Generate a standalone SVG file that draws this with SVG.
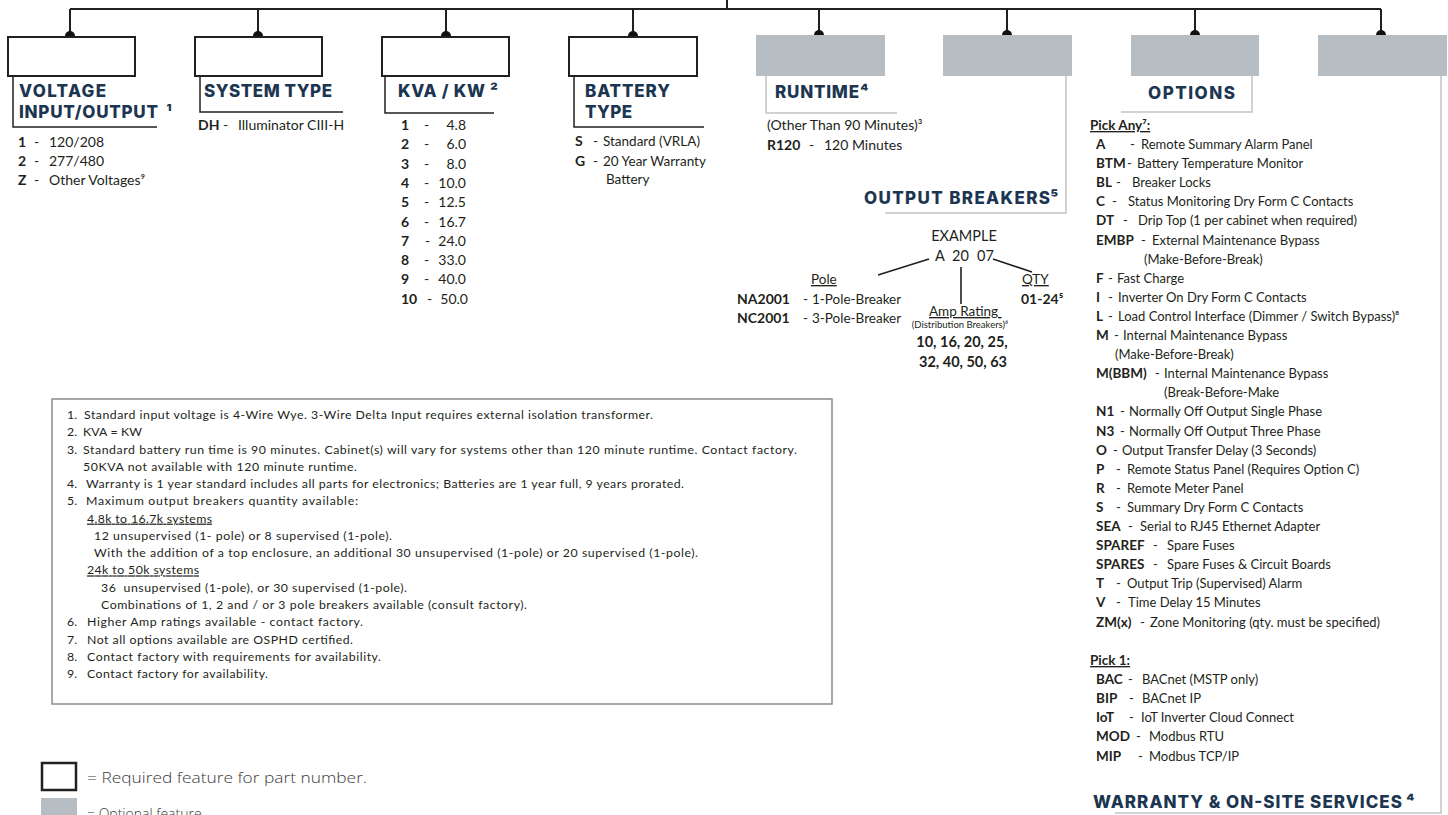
<svg xmlns="http://www.w3.org/2000/svg" width="1448" height="815" viewBox="0 0 1448 815">
<style>
.h{font-family:Inter,"Open Sans","Liberation Sans",sans-serif;font-weight:800;font-size:17px;fill:#1c3651}
.t{font-family:Lato,"Liberation Sans",sans-serif;font-size:13px;fill:#231f20}
.k{font-size:14px}
.s{font-size:13.5px}
.e{font-size:14.5px}
.sm{font-size:9.5px}
.b{font-weight:700}
.n{font-family:Lato,"Liberation Sans",sans-serif;font-size:12.3px;fill:#231f20}
.u{text-decoration:underline}
.lg{font-family:"Open Sans","Liberation Sans",sans-serif;font-weight:300;font-size:14px;fill:#3a3a3a}
.req{fill:#fff;stroke:#231f20;stroke-width:2}
.opt{fill:#b6bec4}
.br{fill:none;stroke:#231f20;stroke-width:1.5}
.bro{fill:none;stroke:#c4c4c4;stroke-width:1.5}
.ln{fill:none;stroke:#231f20;stroke-width:2}
.dot{fill:#111}
</style>

<g id="connectors">
<path class="ln" d="M70 9 H1381 M727 0 V9 M70 9 V35 M258 9 V35 M446 9 V35 M633 9 V35 M819 9 V35 M1007 9 V35 M1195 9 V35 M1381 9 V35"/>
<circle class="dot" cx="70" cy="36" r="5"/>
<circle class="dot" cx="258" cy="36" r="5"/>
<circle class="dot" cx="446" cy="36" r="5"/>
<circle class="dot" cx="633" cy="36" r="5"/>
<circle class="dot" cx="819" cy="35" r="5"/>
<circle class="dot" cx="1007" cy="35" r="5"/>
<circle class="dot" cx="1195" cy="35" r="5"/>
<circle class="dot" cx="1381" cy="35" r="5"/>
</g>

<g id="voltage">
<rect class="req" x="8" y="37" width="127" height="39"/>
<path class="br" d="M13 76 V127 H157"/>
<text class="h" x="19" y="97" textLength="87">VOLTAGE</text>
<text class="h" x="19" y="118" textLength="139">INPUT/OUTPUT</text>
<text class="h" x="166" y="118">¹</text>
<text class="t k" y="147"><tspan class="b" x="18">1</tspan><tspan x="34">-</tspan><tspan x="49">120/208</tspan></text>
<text class="t k" y="166"><tspan class="b" x="18">2</tspan><tspan x="34">-</tspan><tspan x="49">277/480</tspan></text>
<text class="t k" y="185"><tspan class="b" x="18">Z</tspan><tspan x="34">-</tspan><tspan x="49">Other Voltages⁹</tspan></text>
</g>

<g id="system-type">
<rect class="req" x="195" y="37" width="127" height="39"/>
<path class="br" d="M200 76 V112 H343"/>
<text class="h" x="204" y="97" textLength="128">SYSTEM TYPE</text>
<text class="t k" y="130"><tspan class="b" x="198">DH</tspan><tspan x="223">-</tspan><tspan x="238">Illuminator CIII-H</tspan></text>
</g>

<g id="kva">
<rect class="req" x="382" y="37" width="127" height="39"/>
<path class="br" d="M385 76 V113 H494"/>
<text class="h" x="398" y="97" textLength="87">KVA / KW</text>
<text class="h" x="490" y="97">²</text>
<g class="t k">
<text y="130"><tspan class="b" x="401">1</tspan><tspan x="424">-</tspan></text><text x="466" y="130" text-anchor="end">4.8</text>
<text y="149.3"><tspan class="b" x="401">2</tspan><tspan x="424">-</tspan></text><text x="466" y="149.3" text-anchor="end">6.0</text>
<text y="168.6"><tspan class="b" x="401">3</tspan><tspan x="424">-</tspan></text><text x="466" y="168.6" text-anchor="end">8.0</text>
<text y="188"><tspan class="b" x="401">4</tspan><tspan x="424">-</tspan></text><text x="466" y="188" text-anchor="end">10.0</text>
<text y="207.2"><tspan class="b" x="401">5</tspan><tspan x="424">-</tspan></text><text x="466" y="207.2" text-anchor="end">12.5</text>
<text y="226.5"><tspan class="b" x="401">6</tspan><tspan x="424">-</tspan></text><text x="466" y="226.5" text-anchor="end">16.7</text>
<text y="245.8"><tspan class="b" x="401">7</tspan><tspan x="425">-</tspan></text><text x="466" y="245.8" text-anchor="end">24.0</text>
<text y="265.1"><tspan class="b" x="401">8</tspan><tspan x="424">-</tspan></text><text x="466" y="265.1" text-anchor="end">33.0</text>
<text y="284.4"><tspan class="b" x="401">9</tspan><tspan x="424">-</tspan></text><text x="466" y="284.4" text-anchor="end">40.0</text>
<text y="303.7"><tspan class="b" x="401">10</tspan><tspan x="427">-</tspan></text><text x="468" y="303.7" text-anchor="end">50.0</text>
</g>
</g>

<g id="battery">
<rect class="req" x="569" y="37" width="128" height="39"/>
<path class="br" d="M574 76 V127 H704"/>
<text class="h" x="585" y="97" textLength="85">BATTERY</text>
<text class="h" x="585" y="118" textLength="47">TYPE</text>
<text class="t s" y="146"><tspan class="b k" x="575">S</tspan><tspan x="593">-</tspan><tspan x="603">Standard (VRLA)</tspan></text>
<text class="t s" y="166"><tspan class="b k" x="575">G</tspan><tspan x="593">-</tspan><tspan x="603">20 Year Warranty</tspan></text>
<text class="t s" x="606" y="184">Battery</text>
</g>

<g id="runtime">
<rect class="opt" x="756" y="35" width="129" height="41"/>
<path class="bro" d="M766 76 V113 H897"/>
<text class="h" x="775" y="98" textLength="84">RUNTIME</text>
<text class="h" x="860" y="98">⁴</text>
<text class="t k" x="767" y="130">(Other Than 90 Minutes)³</text>
<text class="t k" y="150"><tspan class="b" x="767">R120</tspan><tspan x="809">-</tspan><tspan x="824">120 Minutes</tspan></text>
</g>

<g id="output-breakers">
<rect class="opt" x="943" y="35" width="129" height="41"/>
<path class="bro" d="M1066 76 V213 H885"/>
<text class="h" x="864" y="204" textLength="186">OUTPUT BREAKERS</text>
<text class="h" x="1050" y="204">⁵</text>
<text class="t e" x="964" y="241" text-anchor="middle">EXAMPLE</text>
<text class="t e" y="261"><tspan x="935">A</tspan><tspan x="952">20</tspan><tspan x="977">07</tspan></text>
<path fill="none" stroke="#231f20" stroke-width="1.6" d="M878 275 L929 259 M961 267 V304 M993 259 L1032 272"/>
<text class="t s u" x="811" y="284">Pole</text>
<text class="t s u" x="1022" y="284">QTY</text>
<text class="t s" y="304"><tspan class="b k" x="737">NA2001</tspan><tspan x="803">-</tspan><tspan x="812">1-Pole-Breaker</tspan></text>
<text class="t s" y="323"><tspan class="b k" x="737">NC2001</tspan><tspan x="803">-</tspan><tspan x="812">3-Pole-Breaker</tspan></text>
<text class="t k b" x="1021" y="304">01-24⁵</text>
<text class="t s u" x="929" y="316" xml:space="preserve">Amp Rating </text>
<text class="t sm" x="960" y="328" text-anchor="middle">(Distribution Breakers)⁶</text>
<text class="t b e" x="962" y="347" text-anchor="middle">10, 16, 20, 25,</text>
<text class="t b e" x="963" y="367" text-anchor="middle">32, 40, 50, 63</text>
</g>

<g id="options">
<rect class="opt" x="1131" y="35" width="128" height="41"/>
<path class="bro" d="M1252 76 V112 H1121"/>
<text class="h" x="1148" y="99" textLength="87">OPTIONS</text>
<text class="t s b u" x="1090" y="130">Pick Any⁷:</text>
<g class="t">
<text y="149"><tspan class="b s" x="1096">A</tspan><tspan x="1130">-</tspan><tspan x="1141">Remote Summary Alarm Panel</tspan></text>
<text y="168.1"><tspan class="b s" x="1096">BTM</tspan><tspan x="1127">-</tspan><tspan x="1137">Battery Temperature Monitor</tspan></text>
<text y="187.2"><tspan class="b s" x="1096">BL</tspan><tspan x="1116">-</tspan><tspan x="1132">Breaker Locks</tspan></text>
<text y="206.3"><tspan class="b s" x="1096">C</tspan><tspan x="1112">-</tspan><tspan x="1128">Status Monitoring Dry Form C Contacts</tspan></text>
<text y="225.4"><tspan class="b s" x="1096">DT</tspan><tspan x="1123">-</tspan><tspan x="1138">Drip Top (1 per cabinet when required)</tspan></text>
<text y="244.5"><tspan class="b s" x="1096">EMBP</tspan><tspan x="1141">-</tspan><tspan x="1152">External Maintenance Bypass</tspan></text>
<text x="1144" y="263.6">(Make-Before-Break)</text>
<text y="282.7"><tspan class="b s" x="1096">F</tspan><tspan x="1108">-</tspan><tspan x="1117">Fast Charge</tspan></text>
<text y="301.8"><tspan class="b s" x="1096">I</tspan><tspan x="1108">-</tspan><tspan x="1118">Inverter On Dry Form C Contacts</tspan></text>
<text y="320.9"><tspan class="b s" x="1096">L</tspan><tspan x="1108">-</tspan><tspan x="1118">Load Control Interface (Dimmer / Switch Bypass)⁸</tspan></text>
<text y="340"><tspan class="b s" x="1096">M</tspan><tspan x="1114">-</tspan><tspan x="1123">Internal Maintenance Bypass</tspan></text>
<text x="1115" y="359.1">(Make-Before-Break)</text>
<text y="378.2"><tspan class="b s" x="1096">M(BBM)</tspan><tspan x="1155">-</tspan><tspan x="1164">Internal Maintenance Bypass</tspan></text>
<text x="1164" y="397.3">(Break-Before-Make</text>
<text y="416.4"><tspan class="b s" x="1096">N1</tspan><tspan x="1120">-</tspan><tspan x="1129">Normally Off Output Single Phase</tspan></text>
<text y="435.5"><tspan class="b s" x="1096">N3</tspan><tspan x="1120">-</tspan><tspan x="1129">Normally Off Output Three Phase</tspan></text>
<text y="454.6"><tspan class="b s" x="1096">O</tspan><tspan x="1113">-</tspan><tspan x="1122">Output Transfer Delay (3 Seconds)</tspan></text>
<text y="473.7"><tspan class="b s" x="1096">P</tspan><tspan x="1116">-</tspan><tspan x="1127">Remote Status Panel (Requires Option C)</tspan></text>
<text y="492.8"><tspan class="b s" x="1096">R</tspan><tspan x="1116">-</tspan><tspan x="1127">Remote Meter Panel</tspan></text>
<text y="511.9"><tspan class="b s" x="1096">S</tspan><tspan x="1116">-</tspan><tspan x="1127">Summary Dry Form C Contacts</tspan></text>
<text y="531"><tspan class="b s" x="1096">SEA</tspan><tspan x="1128">-</tspan><tspan x="1140">Serial to RJ45 Ethernet Adapter</tspan></text>
<text y="550.1"><tspan class="b s" x="1096">SPAREF</tspan><tspan x="1153">-</tspan><tspan x="1167">Spare Fuses</tspan></text>
<text y="569.2"><tspan class="b s" x="1096">SPARES</tspan><tspan x="1153">-</tspan><tspan x="1167">Spare Fuses &amp; Circuit Boards</tspan></text>
<text y="588.3"><tspan class="b s" x="1096">T</tspan><tspan x="1116">-</tspan><tspan x="1127">Output Trip (Supervised) Alarm</tspan></text>
<text y="607.4"><tspan class="b s" x="1096">V</tspan><tspan x="1116">-</tspan><tspan x="1128">Time Delay 15 Minutes</tspan></text>
<text y="626.5"><tspan class="b s" x="1096">ZM(x)</tspan><tspan x="1140">-</tspan><tspan x="1150">Zone Monitoring (qty. must be specified)</tspan></text>
</g>
<text class="t s b u" x="1090" y="665">Pick 1:</text>
<g class="t">
<text y="684.1"><tspan class="b s" x="1096">BAC</tspan><tspan x="1128">-</tspan><tspan x="1142">BACnet (MSTP only)</tspan></text>
<text y="703.2"><tspan class="b s" x="1096">BIP</tspan><tspan x="1129">-</tspan><tspan x="1142">BACnet IP</tspan></text>
<text y="722.3"><tspan class="b s" x="1096">IoT</tspan><tspan x="1129">-</tspan><tspan x="1141">IoT Inverter Cloud Connect</tspan></text>
<text y="741.4"><tspan class="b s" x="1096">MOD</tspan><tspan x="1136">-</tspan><tspan x="1149">Modbus RTU</tspan></text>
<text y="760.5"><tspan class="b s" x="1096">MIP</tspan><tspan x="1138">-</tspan><tspan x="1149">Modbus TCP/IP</tspan></text>
</g>
</g>

<g id="warranty">
<rect class="opt" x="1318" y="35" width="129" height="41"/>
<path class="bro" d="M1441 76 V813 H1115"/>
<text class="h" x="1093" y="808" textLength="309">WARRANTY &amp; ON-SITE SERVICES</text>
<text class="h" x="1406" y="808">⁴</text>
</g>

<g id="notes">
<rect x="52" y="399" width="780" height="305" fill="none" stroke="#8a8a8a" stroke-width="1.5"/>
<g class="n">
<text x="67" y="419">1.</text><text x="84" y="419" textLength="569">Standard input voltage is 4-Wire Wye. 3-Wire Delta Input requires external isolation transformer.</text>
<text x="67" y="436.3">2.</text><text x="83" y="436.3" textLength="59">KVA = KW</text>
<text x="67" y="453.5">3.</text><text x="83" y="453.5" textLength="714">Standard battery run time is 90 minutes. Cabinet(s) will vary for systems other than 120 minute runtime. Contact factory.</text>
<text x="83" y="470.8" textLength="274">50KVA not available with 120 minute runtime.</text>
<text x="67" y="488.1">4.</text><text x="86" y="488.1" textLength="598">Warranty is 1 year standard includes all parts for electronics; Batteries are 1 year full, 9 years prorated.</text>
<text x="67" y="505.4">5.</text><text x="86" y="505.4" textLength="272">Maximum output breakers quantity available:</text>
<text class="u" x="87" y="522.6" textLength="125">4.8k to 16.7k systems</text>
<text x="94" y="539.9" textLength="298">12 unsupervised (1- pole) or 8 supervised (1-pole).</text>
<text x="94" y="557.2" textLength="604">With the addition of a top enclosure, an additional 30 unsupervised (1-pole) or 20 supervised (1-pole).</text>
<text class="u" x="87" y="574.4" textLength="112">24k to 50k systems</text>
<text x="101" y="591.7" textLength="306" xml:space="preserve">36  unsupervised (1-pole), or 30 supervised (1-pole).</text>
<text x="101" y="609" textLength="426">Combinations of 1, 2 and / or 3 pole breakers available (consult factory).</text>
<text x="67" y="626.2">6.</text><text x="87" y="626.2" textLength="276">Higher Amp ratings available - contact factory.</text>
<text x="67" y="643.5">7.</text><text x="87" y="643.5" textLength="266">Not all options available are OSPHD certified.</text>
<text x="67" y="660.8">8.</text><text x="87" y="660.8" textLength="294">Contact factory with requirements for availability.</text>
<text x="67" y="678">9.</text><text x="87" y="678" textLength="181">Contact factory for availability.</text>
</g>
</g>

<g id="legend">
<rect x="42" y="763" width="34" height="27" fill="#fff" stroke="#231f20" stroke-width="2.5"/>
<text class="lg" x="87" y="783" textLength="280" lengthAdjust="spacingAndGlyphs">= Required feature for part number.</text>
<rect x="41" y="798" width="36" height="28" class="opt"/>
<text class="lg" x="87" y="819">= Optional feature</text>
</g>
</svg>
